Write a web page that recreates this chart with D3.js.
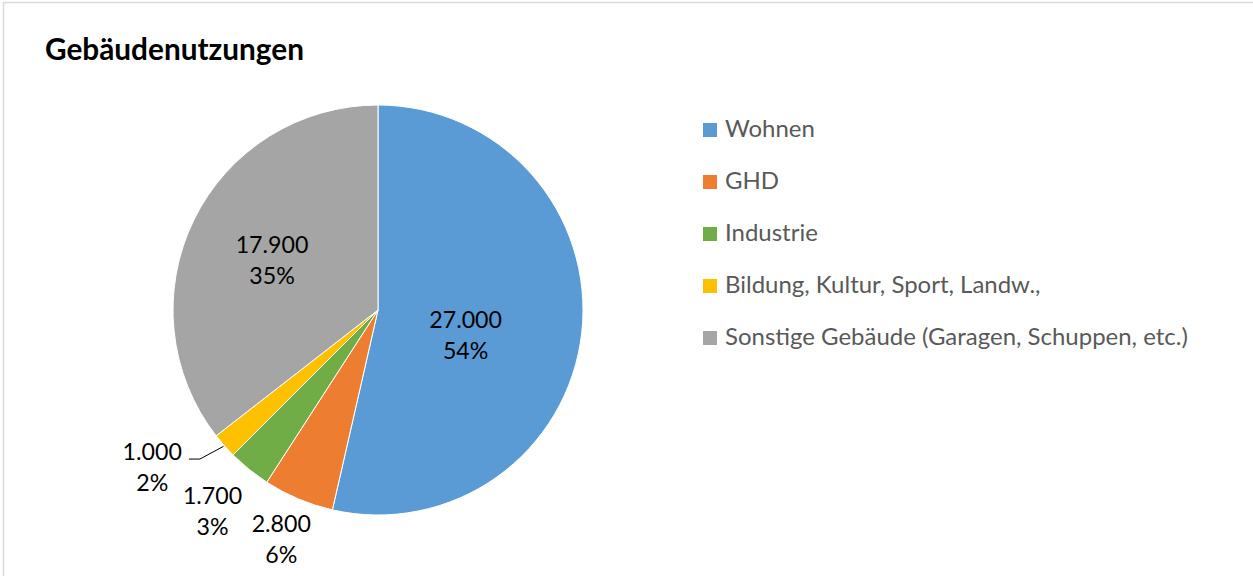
<!DOCTYPE html>
<html>
<head>
<meta charset="utf-8">
<script src="https://cdn.jsdelivr.net/npm/d3@7"></script>
<style>
  html, body { margin: 0; padding: 0; background: #fff; }
  svg { display: block; }
  text { font-family: Lato, "Open Sans", "DejaVu Sans", sans-serif; }
</style>
</head>
<body>
<svg id="chart" width="1253" height="576"></svg>
<script>
// Building use categories and counts
const categories = ["Wohnen", "GHD", "Industrie", "Bildung, Kultur, Sport, Landw.,", "Sonstige Gebäude (Garagen, Schuppen, etc.)"];
const values = [27000, 2800, 1700, 1000, 17900];
const shareLabels = ["54%", "6%", "3%", "2%", "35%"];
const colors = ["#5B9BD5", "#ED7D31", "#70AD47", "#FFC000", "#A5A5A5"];
const title = "Gebäudenutzungen";

const W = 1253, H = 576;
const svg = d3.select("#chart");

// chart area frame
svg.append("rect")
  .attr("x", 3.5).attr("y", 2.5)
  .attr("width", W + 10).attr("height", H + 10)
  .attr("fill", "#fff").attr("stroke", "#d9d9d9").attr("stroke-width", 1.5);

// fit a text element to a target width by scaling its font size
function fitWidth(sel, target) {
  const node = sel.node();
  const size = parseFloat(sel.attr("font-size"));
  const w = node.getComputedTextLength();
  sel.attr("font-size", (size * target / w).toFixed(2));
}

// title
const t = svg.append("text")
  .attr("x", 45).attr("y", 60)
  .attr("font-size", 30).attr("font-weight", 700).attr("fill", "#000")
  .text(title);
fitWidth(t, 259);

// pie
const cx = 378, cy = 310, R = 205;
const pie = d3.pie().sort(null).value(d => d)(values);
const arc = d3.arc().innerRadius(0).outerRadius(R);
const g = svg.append("g").attr("transform", `translate(${cx},${cy})`);

g.selectAll("path.slice")
  .data(pie)
  .join("path")
  .attr("class", "slice")
  .attr("d", arc)
  .attr("fill", (d, i) => colors[i])
  .attr("stroke", "#fff")
  .attr("stroke-width", 1);

// data label placement: distance from centre and angular nudge (degrees)
const labelPlacement = [
  { r: 91, nudge: 9.2 },
  { r: 249, nudge: 0 },
  { r: 260, nudge: 0.6 },
  { r: 275, nudge: 6.6, leader: true },
  { r: 117, nudge: -1 }
];

const fmt = d3.formatLocale({ decimal: ",", thousands: ".", grouping: [3], currency: ["", "€"] }).format(",.0f");
const labelSize = 23.2;

pie.forEach((d, i) => {
  const p = labelPlacement[i];
  const mid = (d.startAngle + d.endAngle) / 2;
  const a = mid + p.nudge * Math.PI / 180;
  const lx = p.r * Math.sin(a);
  const ly = -p.r * Math.cos(a);
  const lg = g.append("g").attr("transform", `translate(${lx},${ly})`);
  const t1 = lg.append("text")
    .attr("text-anchor", "middle").attr("y", -7)
    .attr("font-size", labelSize).attr("fill", "#000")
    .text(fmt(values[i]));
  lg.append("text")
    .attr("text-anchor", "middle").attr("y", 24)
    .attr("font-size", labelSize).attr("fill", "#000")
    .text(shareLabels[i]);
  if (p.leader) {
    const half = t1.node().getComputedTextLength() / 2;
    const ex = lx + half + 7, ey = ly - 8;
    const ax = (R + 1) * Math.sin(mid), ay = -(R + 1) * Math.cos(mid);
    g.append("path")
      .attr("d", `M${ex},${ey}H${ex + 11}L${ax},${ay}`)
      .attr("fill", "none").attr("stroke", "#000").attr("stroke-width", 1);
  }
});

// legend
const legendX = 703, legendY0 = 137, legendStep = 52;
const lgnd = svg.append("g");
const items = lgnd.selectAll("g.item")
  .data(categories)
  .join("g")
  .attr("class", "item")
  .attr("transform", (d, i) => `translate(${legendX},${legendY0 + i * legendStep})`);
items.append("rect")
  .attr("x", 0).attr("y", -14).attr("width", 14).attr("height", 14)
  .attr("fill", (d, i) => colors[i]);
const legendTexts = items.append("text")
  .attr("x", 22).attr("y", 0)
  .attr("font-size", 20).attr("fill", "#595959")
  .text(d => d);
// size legend text so the longest entry spans its measured width
const longest = legendTexts.filter((d, i) => i === categories.length - 1);
fitWidth(longest, 463);
legendTexts.attr("font-size", longest.attr("font-size"));
</script>
</body>
</html>
